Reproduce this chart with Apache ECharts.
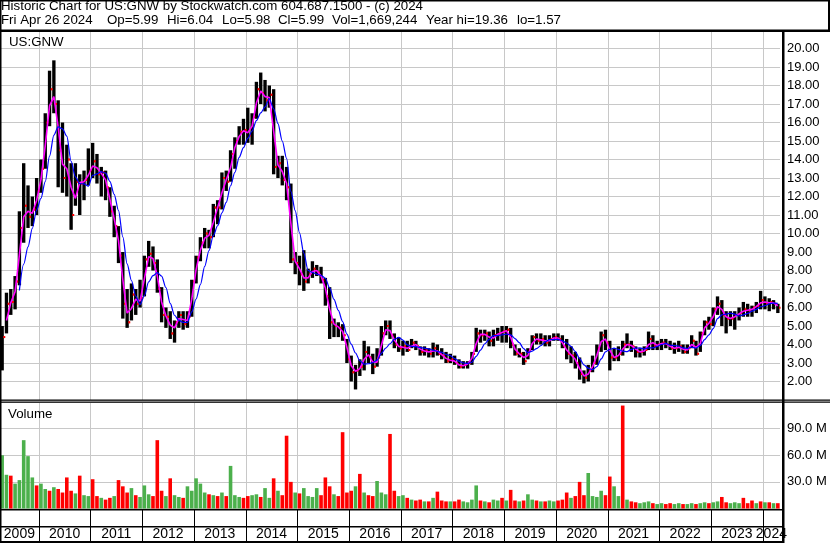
<!DOCTYPE html>
<html><head><meta charset="utf-8">
<script src="https://cdn.jsdelivr.net/npm/echarts/dist/echarts.min.js"></script>
<style>html,body{margin:0;padding:0;background:#fff}#c{width:830px;height:543px}</style>
</head><body><div id="c"></div>
<script>
// ---- DATA (monthly, Apr 2009 .. Apr 2024) ----
const firstOpen = 3.0;
const highs = [
 5.0,6.8,7.0,7.7,11.2,13.8,12.6,12.0,13.0,
 14.0,16.5,18.8,19.36,17.2,16.0,14.8,13.8,13.8,13.2,13.4,14.6,
 14.9,14.3,13.6,13.4,12.5,11.5,10.4,9.0,7.0,7.3,7.0,7.5,
 8.8,9.6,9.3,8.6,7.1,6.0,5.8,5.3,5.8,5.8,5.8,7.5,
 8.8,9.8,10.3,10.2,11.6,11.8,13.3,13.4,14.5,15.2,15.8,16.2,
 16.8,16.5,18.2,18.7,18.3,18.0,17.8,14.2,14.2,13.6,12.7,9.0,
 8.8,9.1,8.1,8.5,8.3,8.2,7.6,7.1,5.4,5.2,5.1,4.3,
 3.4,2.9,3.2,4.2,3.9,3.5,3.8,5.0,5.3,5.3,4.6,4.4,
 4.2,4.2,4.3,4.2,3.9,3.9,3.8,4.1,4.0,3.8,3.6,3.5,
 3.4,3.2,3.1,3.1,3.6,4.9,4.8,4.8,4.7,4.8,4.9,5.0,
 5.0,4.9,4.0,3.8,3.6,3.8,4.5,4.6,4.6,4.5,4.5,4.6,
 4.6,4.5,4.3,3.9,3.6,3.3,2.6,2.9,3.4,4.0,4.7,4.8,
 4.2,3.8,3.9,4.2,4.6,4.2,3.9,3.8,3.9,4.7,4.5,4.2,
 4.3,4.3,4.2,4.1,4.2,4.0,4.0,4.5,4.2,4.7,5.3,5.5,
 6.0,6.6,6.4,5.8,5.8,5.8,6.0,6.3,6.2,6.1,6.3,6.9,
 6.6,6.5,6.4,6.2
];
const lows = [
 2.6,4.6,5.6,5.9,7.2,9.5,10.3,10.4,11.0,
 12.2,13.5,15.8,16.5,12.5,12.2,12.0,10.2,11.5,11.0,11.8,12.6,
 13.0,12.7,12.0,11.8,10.9,9.8,8.4,5.4,4.9,5.3,5.6,6.0,
 6.6,8.2,8.0,6.8,5.2,4.9,4.3,4.1,4.9,4.8,4.9,5.5,
 7.3,8.5,9.2,9.2,9.8,10.5,11.3,12.3,12.8,13.5,14.8,14.8,
 14.9,14.8,16.2,17.0,16.6,16.8,13.2,13.0,12.6,11.8,8.4,7.8,
 7.2,6.9,7.3,7.6,7.7,7.3,6.1,4.3,4.4,4.4,4.2,3.0,
 2.0,1.57,2.3,2.6,3.0,2.4,2.8,3.4,4.5,4.3,3.8,3.6,
 3.4,3.6,3.8,3.7,3.4,3.4,3.3,3.3,3.4,3.2,3.0,3.0,
 2.9,2.7,2.7,2.7,2.9,3.6,4.1,4.2,3.9,3.9,4.2,4.1,
 4.1,3.8,3.4,3.3,2.9,3.2,3.7,4.0,4.0,3.9,3.9,4.2,
 4.2,3.8,3.2,3.0,2.7,2.1,1.9,2.0,2.5,2.9,3.6,3.7,
 2.6,3.1,3.1,3.4,3.8,3.6,3.3,3.3,3.4,3.7,3.7,3.7,
 3.7,3.8,3.7,3.5,3.6,3.5,3.5,3.8,3.4,3.6,4.5,4.8,
 5.0,5.6,5.0,4.6,5.0,4.8,5.3,5.5,5.5,5.5,5.7,5.9,
 5.9,5.8,5.9,5.7
];
const closes = [
 4.4,6.2,6.3,7.4,10.3,11.5,10.9,11.3,12.3,
 13.5,16.0,17.8,17.0,14.5,13.0,14.0,11.0,12.8,12.7,12.9,13.4,
 13.9,13.2,13.3,12.5,11.2,10.4,8.8,6.2,5.2,6.7,6.2,6.5,
 8.6,8.9,8.4,7.0,5.6,5.5,4.6,5.2,5.6,5.1,5.5,7.4,
 8.7,9.5,10.0,9.8,11.4,11.4,13.0,12.8,14.3,15.0,15.5,15.6,
 15.3,16.3,17.8,17.6,17.2,17.5,13.6,13.8,12.9,12.5,8.6,8.4,
 7.8,7.4,7.8,8.1,7.9,7.5,6.6,5.2,5.0,4.9,4.5,3.2,
 2.5,2.6,2.8,3.6,3.3,2.8,3.3,4.6,5.0,4.5,4.0,3.8,
 3.9,3.7,4.1,3.9,3.6,3.7,3.5,3.8,3.5,3.4,3.1,3.2,
 3.0,2.8,2.9,3.0,3.5,4.6,4.5,4.6,4.2,4.5,4.6,4.7,
 4.8,4.0,3.5,3.5,3.1,3.7,4.4,4.2,4.3,4.1,4.3,4.4,
 4.3,3.9,3.5,3.4,3.0,2.4,2.2,2.6,3.0,3.8,4.5,4.1,
 3.3,3.3,3.5,4.0,4.0,3.9,3.6,3.6,3.7,4.3,3.9,4.0,
 4.1,4.0,3.8,3.8,3.9,3.6,3.8,4.2,3.5,4.6,5.2,5.1,
 5.9,6.2,5.6,5.4,5.4,5.6,5.7,5.9,5.8,6.0,6.1,6.4,
 6.2,6.3,6.2,5.99
];
const volumesM = [
 60,38,37,28,32,77,59,35,26,
 28,22,20,24,22,18,35,20,17,37,15,14,
 33,14,12,10,12,14,32,25,18,23,15,13,
 26,16,14,77,20,14,34,15,13,12,25,20,
 34,28,18,16,15,14,18,14,48,15,13,12,
 14,15,16,13,23,12,34,20,15,82,30,18,
 17,23,14,13,23,15,35,25,16,14,86,18,
 20,25,39,18,15,14,31,18,16,84,20,14,
 15,12,10,9,10,8,8,12,19,9,8,8,
 8,10,8,7,10,26,9,8,7,10,9,12,
 9,21,9,8,9,16,10,9,8,8,9,8,
 9,10,18,12,14,30,15,40,14,13,20,15,
 36,25,14,116,10,8,7,6,7,8,6,5,
 6,5,6,5,6,5,5,6,5,6,7,6,
 7,8,13,7,6,7,6,12,6,9,6,8,
 7,7,6,6
];
const volUp = [
 1,1,0,1,1,1,1,1,0,
 1,1,0,1,0,0,0,0,1,0,1,1,
 0,0,1,0,0,1,0,0,0,1,0,1,
 1,1,0,0,0,1,0,1,1,0,1,1,
 1,1,1,0,1,0,1,0,1,1,1,0,
 0,1,1,0,1,1,0,1,0,0,0,1,
 0,1,1,1,1,0,0,0,1,0,0,0,
 0,1,0,1,0,0,1,1,1,0,0,1,
 1,0,1,0,0,1,0,1,0,0,0,1,
 0,0,1,1,1,1,0,1,0,1,1,0,
 1,0,0,1,0,1,1,0,1,0,1,1,
 0,0,0,1,0,0,0,1,1,1,1,0,
 0,1,1,0,1,0,0,1,1,1,0,1,
 1,0,0,1,1,0,1,1,0,1,1,0,
 1,1,0,0,1,1,1,0,0,0,1,0,
 1,0,1,0
];
const years = [2009,2010,2011,2012,2013,2014,2015,2016,2017,2018,2019,2020,2021,2022,2023,2024];
const priceTickMin = 2, priceTickMax = 20;
const volTicks = [30,60,90];
const headerLine1 = 'Historic Chart for US:GNW by Stockwatch.com 604.687.1500 - (c) 2024';
const headerLine2 = ['Fri Apr 26 2024','Op=5.99','Hi=6.04','Lo=5.98','Cl=5.99','Vol=1,669,244','Year hi=19.36','lo=1.57'];
const headerLine2X = [1,107,167,222,278,332,426,517];

// ---- derived ----
const categories = [];
for (let y = 2009, m = 4; y < 2024 || (y === 2024 && m <= 4);) {
  categories.push(y + '-' + String(m).padStart(2, '0'));
  m++; if (m > 12) { m = 1; y++; }
}
function sma(arr, n) {
  return arr.map((v, i) => {
    if (i < n - 1) return null;
    let s = 0; for (let k = i - n + 1; k <= i; k++) s += arr[k];
    return +(s / n).toFixed(3);
  });
}
const ohlc = closes.map((c, i) => [i, i === 0 ? firstOpen : closes[i - 1], highs[i], lows[i], c]);
const maShort = sma(closes, 2);
const maLong = sma(closes, 5);
const volData = volumesM.map((v, i) => ({ value: v, itemStyle: { color: volUp[i] ? '#4cb04c' : '#ff0000' } }));
const yearSpans = years.map(y => {
  let s = categories.findIndex(c => c.startsWith(y + '-'));
  let e = -1; categories.forEach((c, i) => { if (c.startsWith(y + '-')) e = i; });
  return [s, e, y];
});
const janIdx = categories.map((c, i) => c.endsWith('-01') ? i : -1).filter(i => i >= 0).map(i => [i]);

const FONT = '"Liberation Sans", Arial, sans-serif';
const chart = echarts.init(document.getElementById('c'), null, { renderer: 'canvas' });

const xBase = (gi) => ({
  type: 'category', gridIndex: gi, data: categories, boundaryGap: true,
  axisLine: { show: false }, axisTick: { show: false }, axisLabel: { show: false },
  splitLine: { show: false }
});
const yearLines = (gi, color) => ({
  type: 'custom', xAxisIndex: gi, yAxisIndex: gi, data: janIdx, z: 1, silent: true,
  renderItem(params, api) {
    const band = api.size([1, 0])[0];
    const x = Math.round(api.coord([api.value(0), 0])[0] - band / 2) + 0.5;
    const cs = params.coordSys;
    return { type: 'line', shape: { x1: x, y1: cs.y, x2: x, y2: cs.y + cs.height },
      style: { stroke: color, lineWidth: 1 } };
  }
});

const option = {
  animation: false,
  backgroundColor: '#fff',
  grid: [
    { left: -2, width: 782, top: 30, height: 370 },
    { left: -2, width: 782, top: 402, height: 106.5 },
    { left: -2, width: 782, top: 510, height: 32 }
  ],
  xAxis: [xBase(0), xBase(1), xBase(2)],
  yAxis: [
    { gridIndex: 0, position: 'right', min: 1, max: 21, interval: 1,
      axisLine: { show: false }, axisTick: { show: false },
      axisLabel: { margin: 7, color: '#000', fontSize: 13, fontFamily: FONT,
        formatter: v => (v >= priceTickMin && v <= priceTickMax) ? v.toFixed(2) : '' },
      splitLine: { lineStyle: { color: '#c8c8c8', width: 1 } } },
    { gridIndex: 1, position: 'right', min: 0, max: 120, interval: 30,
      axisLine: { show: false }, axisTick: { show: false },
      axisLabel: { margin: 7, color: '#000', fontSize: 13, fontFamily: FONT,
        formatter: v => volTicks.includes(v) ? v.toFixed(1) + ' M' : '' },
      splitLine: { lineStyle: { color: '#c8c8c8', width: 1 } } },
    { gridIndex: 2, min: 0, max: 1, show: false }
  ],
  series: [
    yearLines(0, '#c8c8c8'), yearLines(1, '#c8c8c8'), yearLines(2, '#000'),
    { type: 'custom', xAxisIndex: 0, yAxisIndex: 0, data: ohlc, encode: { x: 0, y: [1, 2, 3, 4] }, z: 2,
      renderItem(params, api) {
        const hi = api.coord([api.value(0), api.value(2)]);
        const lo = api.coord([api.value(0), api.value(3)]);
        const op = api.coord([api.value(0), api.value(1)]);
        const cl = api.coord([api.value(0), api.value(4)]);
        const w = api.size([1, 0])[0] * 0.78;
        return { type: 'group', children: [
          { type: 'rect', shape: { x: hi[0] - w / 2, y: hi[1], width: w, height: Math.max(1, lo[1] - hi[1]) }, style: { fill: '#000' } },
          { type: 'rect', shape: { x: hi[0] - w / 2 - 1, y: op[1] - 1, width: 1.5, height: 2 }, style: { fill: '#ff0000' } },
          { type: 'rect', shape: { x: hi[0] + w / 2 - 0.5, y: cl[1] - 1, width: 1.5, height: 2 }, style: { fill: '#ff0000' } }
        ] };
      } },
    { type: 'line', xAxisIndex: 0, yAxisIndex: 0, data: maShort, symbol: 'none', z: 3,
      lineStyle: { color: '#ff00ff', width: 1.6 } },
    { type: 'line', xAxisIndex: 0, yAxisIndex: 0, data: maLong, symbol: 'none', z: 4, smooth: 0.3, smoothMonotone: 'x',
      lineStyle: { color: '#0000ff', width: 1.2 } },
    { type: 'bar', xAxisIndex: 1, yAxisIndex: 1, data: volData, barWidth: 3.6, z: 2 },
    { type: 'custom', xAxisIndex: 2, yAxisIndex: 2, data: yearSpans, z: 5,
      renderItem(params, api) {
        const band = api.size([1, 0])[0];
        const a = api.coord([api.value(0), 0.25])[0] - band / 2;
        const b = api.coord([api.value(1), 0.25])[0] + band / 2;
        const y = api.coord([api.value(0), 0.25])[1];
        const cx = Math.max(a, 0) / 2 + Math.min(b, 780) / 2;
        return { type: 'text', style: { text: String(api.value(2)), x: cx, y: y, align: 'center', verticalAlign: 'middle',
          fill: '#000', font: '14px ' + FONT } };
      } }
  ],
  graphic: [
    { type: 'rect', z: 100, shape: { x: 0, y: 0, width: 830, height: 1.5 }, style: { fill: '#000' } },
    { type: 'rect', z: 100, shape: { x: 0, y: 29.5, width: 830, height: 2.5 }, style: { fill: '#000' } },
    { type: 'rect', z: 100, shape: { x: 828, y: 0, width: 2, height: 31 }, style: { fill: '#000' } },
    { type: 'rect', z: 100, shape: { x: 0, y: 0, width: 1.5, height: 543 }, style: { fill: '#000' } },
    { type: 'rect', z: 100, shape: { x: 782, y: 30, width: 2.5, height: 513 }, style: { fill: '#000' } },
    { type: 'rect', z: 100, shape: { x: 0, y: 399.5, width: 830, height: 1.2 }, style: { fill: '#000' } },
    { type: 'rect', z: 100, shape: { x: 0, y: 401.6, width: 830, height: 1.2 }, style: { fill: '#000' } },
    { type: 'rect', z: 100, shape: { x: 0, y: 509, width: 784, height: 1.6 }, style: { fill: '#000' } },
    { type: 'rect', z: 100, shape: { x: 0, y: 526, width: 784, height: 1.6 }, style: { fill: '#000' } },
    { type: 'rect', z: 100, shape: { x: 0, y: 541, width: 784, height: 2 }, style: { fill: '#000' } },
    { type: 'text', z: 101, style: { text: headerLine1, x: 1, y: 6.5, verticalAlign: 'middle', fill: '#000', font: '13.3px ' + FONT } },
    ...headerLine2.map((t, i) => ({ type: 'text', z: 101, style: { text: t, x: headerLine2X[i], y: 20.5, verticalAlign: 'middle', fill: '#000', font: '13.3px ' + FONT } })),
    { type: 'text', z: 101, style: { text: 'US:GNW', x: 9, y: 42, verticalAlign: 'middle', fill: '#000', font: '13.3px ' + FONT } },
    { type: 'text', z: 101, style: { text: 'Volume', x: 8, y: 414, verticalAlign: 'middle', fill: '#000', font: '13.3px ' + FONT } }
  ]
};
chart.setOption(option);
</script>
</body></html>
